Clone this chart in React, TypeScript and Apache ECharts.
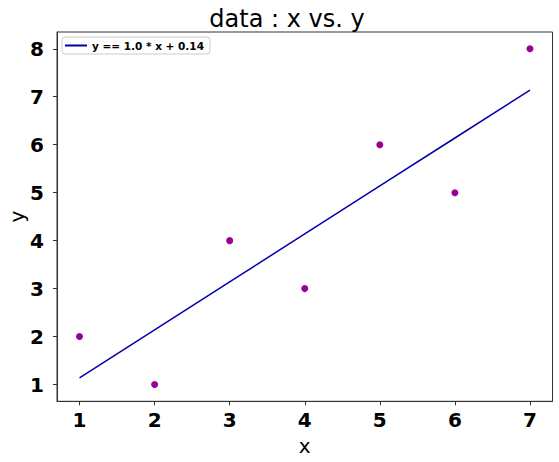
import React, { useEffect, useRef } from "react";
import * as echarts from "echarts";

const xValues = [1, 2, 3, 4, 5, 6, 7];
const yValues = [2, 1, 4, 3, 6, 5, 8];
const fitValues = [1.14, 2.14, 3.14, 4.14, 5.14, 6.14, 7.14];
const xTicks = [1, 2, 3, 4, 5, 6, 7];
const yTicks = [1, 2, 3, 4, 5, 6, 7, 8];
const titleText = "data : x vs. y";
const legendLabel = "y == 1.0 * x + 0.14";

const FONT = "DejaVu Sans";

export default function App() {
  const ref = useRef<HTMLDivElement>(null);
  useEffect(() => {
    if (!ref.current) return;
    const chart = echarts.init(ref.current, undefined, { renderer: "svg" });
    chart.setOption({
      animation: false,
      backgroundColor: "#ffffff",
      title: {
        text: titleText,
        left: 282,
        textAlign: "center",
        top: 2,
        textStyle: { fontFamily: FONT, fontSize: 24, fontWeight: "normal", color: "#000" },
      },
      legend: {
        data: [{ name: legendLabel, icon: "rect" }],
        left: 62,
        top: 37,
        orient: "vertical",
        itemWidth: 22,
        itemHeight: 2,
        itemGap: 4,
        padding: [3, 6, 3, 3],
        borderColor: "#cccccc",
        borderWidth: 1,
        borderRadius: 3,
        textStyle: { fontFamily: FONT, fontSize: 10.5, fontWeight: "bold", color: "#000" },
      },
      grid: {
        left: 57,
        right: 6.5,
        top: 32,
        bottom: 60.7,
        outerBoundsMode: "none",
        containLabel: false,
        show: true,
        borderColor: "#333",
        borderWidth: 1,
      },
      xAxis: {
        type: "value",
        min: 0.7,
        max: 7.3,
        name: "x",
        nameLocation: "middle",
        nameGap: 35,
        nameMoveOverlap: false,
        nameTextStyle: { fontFamily: FONT, fontSize: 20, color: "#000" },
        splitLine: { show: false },
        axisLine: { show: true, onZero: false, lineStyle: { color: "#333", width: 1 } },
        axisTick: { show: true, inside: false, length: 4, customValues: xTicks, lineStyle: { color: "#333" } },
        axisLabel: {
          customValues: xTicks,
          margin: 9,
          fontFamily: FONT,
          fontSize: 20,
          fontWeight: "bold",
          color: "#000",
        },
      },
      yAxis: {
        type: "value",
        min: 0.65,
        max: 8.35,
        name: "y",
        nameLocation: "middle",
        nameGap: 30,
        nameMoveOverlap: false,
        nameRotate: 90,
        nameTextStyle: { fontFamily: FONT, fontSize: 20, color: "#000" },
        splitLine: { show: false },
        axisLine: { show: true, onZero: false, lineStyle: { color: "#333", width: 1 } },
        axisTick: { show: true, inside: false, length: 4, customValues: yTicks, lineStyle: { color: "#333" } },
        axisLabel: {
          customValues: yTicks,
          margin: 13,
          fontFamily: FONT,
          fontSize: 20,
          fontWeight: "bold",
          color: "#000",
        },
      },
      series: [
        {
          name: legendLabel,
          type: "line",
          data: xValues.map((x, i) => [x, fitValues[i]]),
          symbol: "none",
          lineStyle: { color: "#0000aa", width: 1.5 },
          itemStyle: { color: "#0000aa" },
        },
        {
          name: "data",
          type: "scatter",
          data: xValues.map((x, i) => [x, yValues[i]]),
          symbolSize: 7,
          itemStyle: { color: "#990099", opacity: 1 },
        },
      ],
    });
    return () => chart.dispose();
  }, []);
  return <div ref={ref} style={{ width: 559, height: 462, position: "absolute", left: 0, top: 0 }} />;
}
